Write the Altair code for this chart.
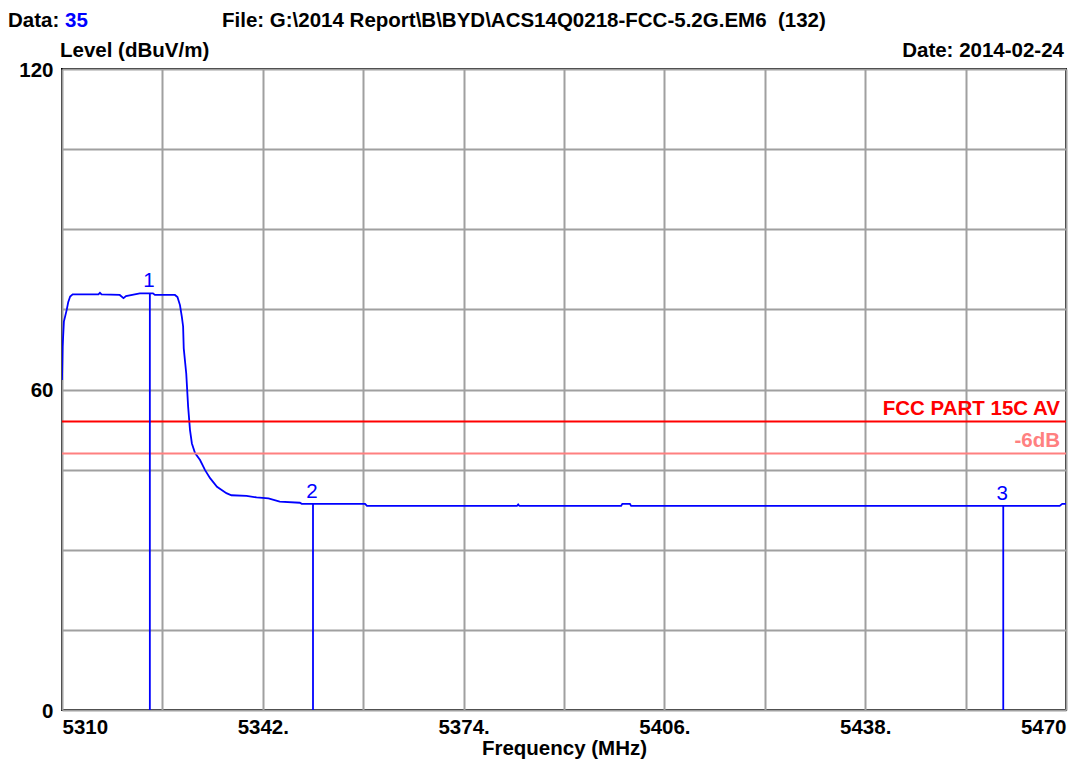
import altair as alt
import pandas as pd

# ---- data ----
freq = [5310.0, 5310.1, 5310.3, 5310.75, 5311.0, 5311.3, 5311.7, 5315.8, 5316.05, 5316.3,
        5319.2, 5319.8, 5320.2, 5322.4, 5324.5, 5324.8, 5328.0, 5328.4, 5328.8, 5329.1,
        5329.3, 5329.4, 5329.8, 5330.1, 5330.4, 5330.7, 5331.2, 5332.0, 5332.8, 5333.6,
        5334.7, 5336.2, 5337.0, 5339.4, 5341.0, 5342.9, 5344.7, 5347.9, 5348.2, 5358.3,
        5358.6, 5382.5, 5382.7, 5382.9, 5399.1, 5399.3, 5400.5, 5400.7, 5469.0, 5469.4,
        5470.0]
level = [61.8, 68.0, 72.7, 74.9, 76.4, 77.4, 77.8, 77.8, 78.1, 77.8,
         77.7, 77.1, 77.5, 78.0, 78.0, 77.7, 77.7, 77.3, 75.8, 73.6,
         71.8, 67.7, 63.0, 56.8, 52.4, 49.9, 48.1, 46.8, 44.9, 43.4,
         41.8, 40.6, 40.2, 40.1, 39.8, 39.6, 39.0, 38.8, 38.6, 38.6,
         38.2, 38.2, 38.5, 38.2, 38.2, 38.6, 38.6, 38.2, 38.2, 38.6,
         38.6]

marker_ids = ["1", "2", "3"]
marker_freq = [5324.0, 5350.0, 5460.0]
marker_level = [78.0, 38.6, 38.2]

limit_names = ["FCC PART 15C AV", "-6dB"]
limit_levels = [54.0, 48.0]
limit_colors = ["#FF0000", "#FF8080"]

x_tick_values = [5310, 5326, 5342, 5358, 5374, 5390, 5406, 5422, 5438, 5454, 5470]
x_tick_labels = ["5310", "", "5342.", "", "5374.", "", "5406.", "", "5438.", "", "5470"]
y_tick_values = [0, 15, 30, 45, 60, 75, 90, 105, 120]
y_tick_labels = ["0", "", "", "", "60", "", "", "", "120"]

header_data_label = "Data:"
header_data_value = "35"
header_file = "File: G:\\2014 Report\\B\\BYD\\ACS14Q0218-FCC-5.2G.EM6\u00a0\u00a0(132)"
header_level = "Level (dBuV/m)"
header_date = "Date: 2014-02-24"
x_title = "Frequency (MHz)"

FONT = "Liberation Sans"
FS = 20.5
W, H = 1004, 641

trace = pd.DataFrame({"freq": freq, "level": level})
markers = pd.DataFrame({"id": marker_ids, "freq": marker_freq, "level": marker_level})
limits = pd.DataFrame({"name": limit_names, "level": limit_levels, "color": limit_colors})

def label_expr(values, labels):
    parts = ", ".join(f"'{v}': '{l}'" for v, l in zip(values, labels))
    return f"({{{parts}}})[datum.value + ''] || ''"

xscale = alt.Scale(domain=[5310, 5470], nice=False, zero=False)
yscale = alt.Scale(domain=[0, 120], nice=False, zero=True)

xaxis = alt.Axis(values=x_tick_values, labelExpr=label_expr(x_tick_values, x_tick_labels),
                 grid=True, gridColor="#A0A0A0", gridWidth=2, gridOpacity=1,
                 ticks=False, domain=False,
                 labelFlush=True, labelOverlap=False, labelPadding=7,
                 labelFont=FONT, labelFontSize=FS, labelFontWeight="bold", labelColor="#000",
                 title=x_title, titleFont=FONT, titleFontSize=FS, titleFontWeight="bold",
                 titleColor="#000", titlePadding=1)
yaxis = alt.Axis(values=y_tick_values, labelExpr=label_expr(y_tick_values, y_tick_labels),
                 grid=True, gridColor="#A0A0A0", gridWidth=2, gridOpacity=1,
                 ticks=False, domain=False,
                 labelOverlap=False, labelPadding=9, labelOffset=1,
                 labelFont=FONT, labelFontSize=FS, labelFontWeight="bold", labelColor="#000",
                 title=None)

line = alt.Chart(trace).mark_line(color="#0000FF", strokeWidth=1.8, clip=True).encode(
    x=alt.X("freq:Q", scale=xscale, axis=xaxis),
    y=alt.Y("level:Q", scale=yscale, axis=yaxis),
)

limit_rules = alt.Chart(limits).mark_rule(strokeWidth=2).encode(
    y=alt.Y("level:Q"),
    color=alt.Color("color:N", scale=None),
)
limit_text = alt.Chart(limits).mark_text(
    align="right", baseline="alphabetic", dy=-7, font=FONT, fontSize=FS, fontWeight="bold"
).encode(
    x=alt.value(W - 6),
    y=alt.Y("level:Q"),
    text="name:N",
    color=alt.Color("color:N", scale=None),
)

marker_rules = alt.Chart(markers).mark_rule(color="#0000FF", strokeWidth=1.8).encode(
    x=alt.X("freq:Q"),
    y=alt.Y("level:Q"),
    y2=alt.datum(0),
)
marker_text = alt.Chart(markers).mark_text(
    align="center", baseline="alphabetic", dy=-6, dx=-1, font=FONT, fontSize=FS, color="#0000FF"
).encode(
    x=alt.X("freq:Q"),
    y=alt.Y("level:Q"),
    text="id:N",
)

def header(txt, x, y, align="left", color="#000"):
    return alt.Chart(pd.DataFrame({"t": [txt]})).mark_text(
        align=align, baseline="alphabetic", font=FONT, fontSize=FS, fontWeight="bold", color=color
    ).encode(x=alt.value(x), y=alt.value(y), text="t:N")

headers = [
    header(header_data_label, -54, -42),
    header(header_data_value, 3, -42, color="#0000FF"),
    header(header_file, 160, -42),
    header(header_level, -2, -12),
    header(header_date, W - 2, -12, align="right"),
]

chart = alt.layer(line, limit_rules, limit_text, marker_rules, marker_text, *headers).properties(
    width=W, height=H,
    autosize=alt.AutoSizeParams(type="none"),
    padding={"left": 54, "top": 61, "right": 12, "bottom": 49},
).configure(
    background="white",
    view=alt.ViewConfig(stroke="#000000", strokeWidth=2),
)

chart.save("out.html", embed_options={"renderer": "svg", "actions": False})
